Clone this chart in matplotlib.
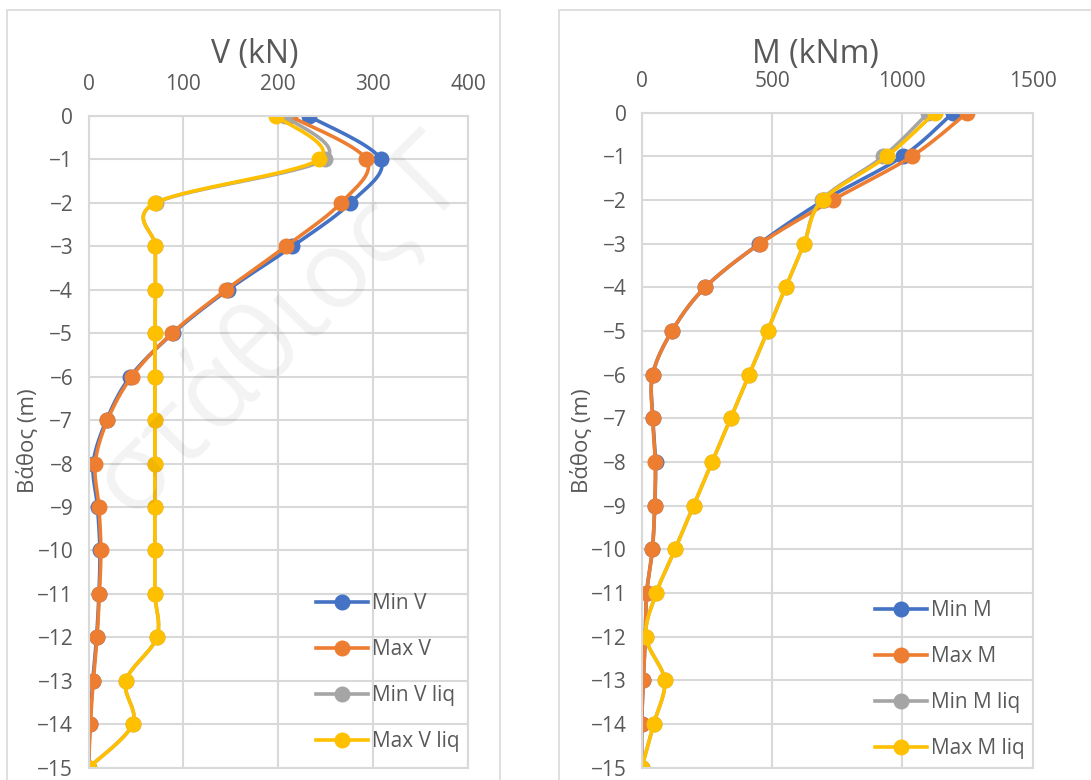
import numpy as np
import matplotlib
matplotlib.use("Agg")
import matplotlib.pyplot as plt
from matplotlib.patches import Rectangle

# ==========================================================
# DATA
# ==========================================================
depth = [0, -1, -2, -3, -4, -5, -6, -7, -8, -9, -10, -11, -12, -13, -14, -15]

v_min = [232, 308, 276, 215, 147, 89, 44, 19, 5, 9.5, 12, 11, 8.5, 4.5, 1.5, 0]
v_max = [212, 293, 266, 208, 145, 88, 45.5, 20, 7, 11, 13, 11.5, 9, 5, 2, 0]
v_min_liq = [207, 249, 71, 70.5, 70.5, 70, 70, 70, 70, 70, 70, 70, 72, 39.5, 46.5, 0]
v_max_liq = [198, 243, 70.5, 70.5, 70.5, 70, 70, 70, 70, 70, 70, 70, 72, 39.5, 46.5, 0]

m_min = [1195, 1001, 700, 451, 243, 116, 42, 43, 53, 50, 41, 19, 14, 6, 0, 0]
m_max = [1249, 1036, 733, 454, 243, 116, 42, 42, 52, 50, 41, 19, 14, 6, 0, 0]
m_min_liq = [1100, 927, 690, 623, 552, 483, 412, 341, 270, 199, 128, 56, 16, 88, 46, 0]
m_max_liq = [1125, 940, 694, 623, 552, 483, 412, 341, 270, 199, 128, 56, 16, 88, 46, 0]

v_labels = ["Min V", "Max V", "Min V liq", "Max V liq"]
m_labels = ["Min M", "Max M", "Min M liq", "Max M liq"]

colors = ["#4472C4", "#ED7D31", "#A5A5A5", "#FFC000"]
text_col = "#595959"
grid_col = "#D9D9D9"

plt.rcParams["font.family"] = ["Open Sans", "DejaVu Sans"]

W, H = 1091, 780


def smooth(x, y, n=20):
    # Catmull-Rom, like Excel "smoothed line"
    p = np.column_stack([x, y]).astype(float)
    p = np.vstack([p[0], p, p[-1]])
    out = []
    for i in range(1, len(p) - 2):
        p0, p1, p2, p3 = p[i - 1], p[i], p[i + 1], p[i + 2]
        t = np.linspace(0, 1, n, endpoint=False)[:, None]
        c = 0.5 * ((2 * p1) + (-p0 + p2) * t
                   + (2 * p0 - 5 * p1 + 4 * p2 - p3) * t ** 2
                   + (-p0 + 3 * p1 - 3 * p2 + p3) * t ** 3)
        out.append(c)
    out.append(p[-2][None, :])
    out = np.vstack(out)
    return out[:, 0], out[:, 1]


def px(x0, y0, x1, y1):
    return [x0 / W, 1 - y1 / H, (x1 - x0) / W, (y1 - y0) / H]


fig = plt.figure(figsize=(W / 100, H / 100), dpi=100)

# chart borders
for x0, x1 in [(7, 500), (559, 1100)]:
    fig.patches.append(Rectangle((x0 / W, -0.05), (x1 - x0) / W, 1 - 10 / H + 0.05,
                                 transform=fig.transFigure, fill=False,
                                 edgecolor=grid_col, linewidth=1.2))

# faint watermark
fig.text(285 / W, 1 - 330 / H, "στάθιος Γ", rotation=45, ha="center",
         va="center", fontsize=78, color="black", alpha=0.05, zorder=0)

panels = [
    (px(88.5, 116, 468, 767.7), [v_min, v_max, v_min_liq, v_max_liq], v_labels,
     400, 100, "V (kN)", 255, (316, 752)),
    (px(641.7, 112.7, 1032.7, 767.7), [m_min, m_max, m_min_liq, m_max_liq], m_labels,
     1500, 500, "M (kNm)", 815, (875, 759)),
]

for rect, series, labels, xmax, xstep, title, tx, (lx, ly) in panels:
    ax = fig.add_axes(rect)
    ax.patch.set_alpha(0)
    for vals, lab, c in zip(series, labels, colors):
        sx, sy = smooth(vals, depth)
        ax.plot(sx, sy, color=c, linewidth=2.6, solid_capstyle="round")
        ax.plot(vals, depth, linestyle="none", marker="o", markersize=10.5,
                color=c)
        ax.plot([], [], color=c, linewidth=2.6, marker="o", markersize=10.5,
                label=lab)

    ax.set_xlim(0, xmax)
    ax.set_ylim(-15, 0)
    ax.set_xticks(np.arange(0, xmax + 1, xstep))
    ax.set_yticks(depth)
    ax.xaxis.tick_top()
    ax.tick_params(length=0, labelsize=15, labelcolor=text_col)
    ax.tick_params(axis="x", pad=15)
    ax.tick_params(axis="y", pad=11)
    ax.grid(True, color=grid_col, linewidth=1.5)
    ax.set_axisbelow(True)
    for s in ax.spines.values():
        s.set_color(grid_col)
        s.set_linewidth(1.5)

    fig.text(tx / W, 1 - 54 / H, title, ha="center", va="center",
             fontsize=23, color=text_col)

    ax.legend(loc="lower left", bbox_to_anchor=(lx / W, 1 - ly / H),
              bbox_transform=fig.transFigure, frameon=False, fontsize=15,
              labelcolor=text_col, borderpad=0, borderaxespad=0,
              handlelength=2.5, handletextpad=0.2, labelspacing=1.2)

fig.text(28 / W, 1 - 441 / H, "Βάθος (m)", rotation=90, ha="center",
         va="center", fontsize=16, color=text_col)
fig.text(582 / W, 1 - 441 / H, "Βάθος (m)", rotation=90, ha="center",
         va="center", fontsize=16, color=text_col)

plt.savefig("out.png", dpi=100)
